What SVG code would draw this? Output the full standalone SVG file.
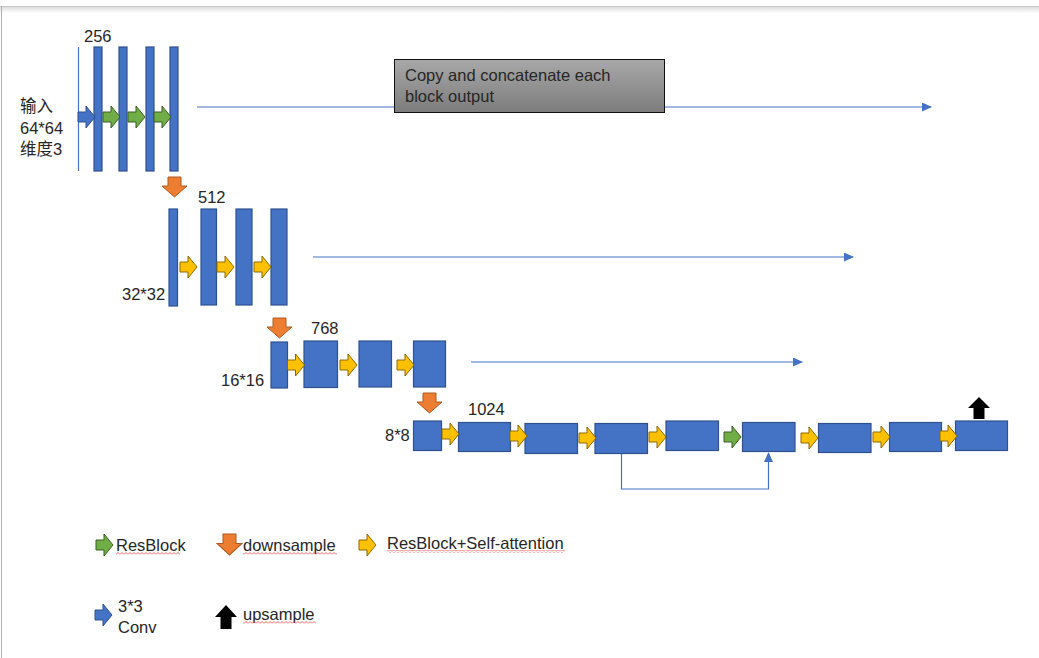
<svg xmlns="http://www.w3.org/2000/svg" xmlns:xlink="http://www.w3.org/1999/xlink" width="1039" height="658" viewBox="0 0 1039 658">
<style>
text{font-family:"Liberation Sans","Noto Sans CJK SC",sans-serif;font-size:16.5px;fill:#262626}
.blk{fill:#4472C4;stroke:#2F528F;stroke-width:1.2}
.g{fill:#70AD47;stroke:#3A5F24;stroke-width:1}
.y{fill:#FFC000;stroke:#8C6A00;stroke-width:1}
.b{fill:#4472C4;stroke:#2F528F;stroke-width:1}
.o{fill:#ED7D31;stroke:#AE5A21;stroke-width:1}
.k{fill:#000}
.cn{fill:none;stroke:#4472C4;stroke-width:1.2}
</style>
<defs>
<path id="ra" d="M0,-5 H8 V-11 L17,0 L8,11 V5 H0 Z"/>
<path id="da" d="M6,0 H19 V9 H25 L12.5,20 L0,9 H6 Z"/>
<path id="ua" d="M11,0 L22,11 H16.5 V22 H5.5 V11 H0 Z"/>
<marker id="ah" markerWidth="10" markerHeight="9" refX="9" refY="4.5" orient="auto" markerUnits="userSpaceOnUse">
<path d="M0,0 L10,4.5 L0,9 Z" fill="#4472C4"/>
</marker>
<linearGradient id="gb" x1="0" y1="0" x2="0" y2="1">
<stop offset="0" stop-color="#a8a8a8"/>
<stop offset="1" stop-color="#7c7c7c"/>
</linearGradient>
<linearGradient id="sh" x1="0" y1="0" x2="0" y2="1">
<stop offset="0" stop-color="#d8d8d8"/>
<stop offset="1" stop-color="#ffffff"/>
</linearGradient>
<pattern id="wave" width="4" height="3" patternUnits="userSpaceOnUse">
<path d="M0,2.5 L2,0.5 L4,2.5" fill="none" stroke="#e53935" stroke-width="0.8"/>
</pattern>
</defs>
<rect width="1039" height="658" fill="#fff"/>
<rect x="0" y="6" width="1039" height="7" fill="url(#sh)"/>
<line x1="0" y1="6.5" x2="1039" y2="6.5" stroke="#c8c8c8"/>
<line x1="1.5" y1="6" x2="1.5" y2="658" stroke="#b0b0b0"/>

<g id="connectors">
<line class="cn" x1="197" y1="107" x2="931" y2="107" marker-end="url(#ah)"/>
<line class="cn" x1="313" y1="257" x2="853" y2="257" marker-end="url(#ah)"/>
<line class="cn" x1="471" y1="362" x2="802" y2="362" marker-end="url(#ah)"/>
<polyline class="cn" points="621.5,453 621.5,489 768.5,489 768.5,453" marker-end="url(#ah)"/>
</g>

<g id="copy-box">
<rect x="394.5" y="59.5" width="270" height="53" fill="url(#gb)" stroke="#111" stroke-width="1"/>
<text x="405" y="81">Copy and concatenate each</text>
<text x="405" y="102">block output</text>
</g>

<g id="level1">
<line x1="78.5" y1="47" x2="78.5" y2="171" stroke="#4472C4" stroke-width="1.2"/>
<rect class="blk" x="94" y="47" width="8" height="124"/>
<rect class="blk" x="119" y="47" width="8" height="124"/>
<rect class="blk" x="146" y="47" width="8" height="124"/>
<rect class="blk" x="170" y="47" width="8" height="124"/>
<use href="#ra" class="b" transform="translate(78,117)"/>
<use href="#ra" class="g" transform="translate(103,117)"/>
<use href="#ra" class="g" transform="translate(128,117)"/>
<use href="#ra" class="g" transform="translate(154,117)"/>
<text x="84" y="42">256</text>
<text x="20" y="112">输入</text>
<text x="20" y="134">64*64</text>
<text x="20" y="155">维度3</text>
<use href="#da" class="o" transform="translate(162,177)"/>
</g>

<g id="level2">
<rect class="blk" x="169" y="209" width="8.5" height="97"/>
<rect class="blk" x="201" y="209" width="15.5" height="96"/>
<rect class="blk" x="236" y="209" width="16" height="96"/>
<rect class="blk" x="271" y="209" width="16" height="96"/>
<use href="#ra" class="y" transform="translate(180,267)"/>
<use href="#ra" class="y" transform="translate(217,267)"/>
<use href="#ra" class="y" transform="translate(254,267)"/>
<text x="198" y="203">512</text>
<text x="122" y="300">32*32</text>
<use href="#da" class="o" transform="translate(267,318)"/>
</g>

<g id="level3">
<rect class="blk" x="271" y="342" width="16.5" height="46"/>
<rect class="blk" x="304" y="341" width="33.5" height="46.5"/>
<rect class="blk" x="359" y="341" width="32.5" height="46"/>
<rect class="blk" x="413.5" y="341" width="32" height="46"/>
<use href="#ra" class="y" transform="translate(287.5,365)"/>
<use href="#ra" class="y" transform="translate(340,365)"/>
<use href="#ra" class="y" transform="translate(397,365)"/>
<text x="311" y="334">768</text>
<text x="221" y="386">16*16</text>
<use href="#da" class="o" transform="translate(417,393)"/>
</g>

<g id="level4">
<rect class="blk" x="413.5" y="421" width="28" height="29.5"/>
<rect class="blk" x="458.5" y="422.5" width="52" height="29"/>
<rect class="blk" x="525" y="423.5" width="52.5" height="30"/>
<rect class="blk" x="595" y="423.5" width="52.5" height="30"/>
<rect class="blk" x="666" y="421" width="52.5" height="29.5"/>
<rect class="blk" x="742.5" y="422.5" width="52.5" height="29"/>
<rect class="blk" x="818.5" y="423.5" width="52.5" height="29"/>
<rect class="blk" x="889.5" y="422.5" width="52" height="29"/>
<rect class="blk" x="955.5" y="421" width="52" height="29.5"/>
<use href="#ra" class="y" transform="translate(442,434)"/>
<use href="#ra" class="y" transform="translate(510,436)"/>
<use href="#ra" class="y" transform="translate(579,438)"/>
<use href="#ra" class="y" transform="translate(649,437)"/>
<use href="#ra" class="g" transform="translate(724,437)"/>
<use href="#ra" class="y" transform="translate(801,438)"/>
<use href="#ra" class="y" transform="translate(873,437)"/>
<use href="#ra" class="y" transform="translate(940,436)"/>
<use href="#ua" class="k" transform="translate(968,397)"/>
<text x="468" y="415">1024</text>
<text x="385" y="441">8*8</text>
</g>

<g id="legend">
<use href="#ra" class="g" transform="translate(96,545)"/>
<text x="116" y="551">ResBlock</text>
<rect x="116" y="552" width="64" height="3" fill="url(#wave)"/>
<use href="#da" class="o" transform="translate(217,534) scale(1,1.05)"/>
<text x="243" y="551">downsample</text>
<rect x="243" y="552" width="94" height="3" fill="url(#wave)"/>
<use href="#ra" class="y" transform="translate(359,545)"/>
<text x="387" y="549">ResBlock+Self-attention</text>
<rect x="387" y="550" width="178" height="3" fill="url(#wave)"/>
<use href="#ra" class="b" transform="translate(95,615)"/>
<text x="118" y="612">3*3</text>
<text x="118" y="633">Conv</text>
<use href="#ua" class="k" transform="translate(215,605) scale(1,1.09)"/>
<text x="243" y="620">upsample</text>
<rect x="243" y="621" width="73" height="3" fill="url(#wave)"/>
</g>
</svg>
